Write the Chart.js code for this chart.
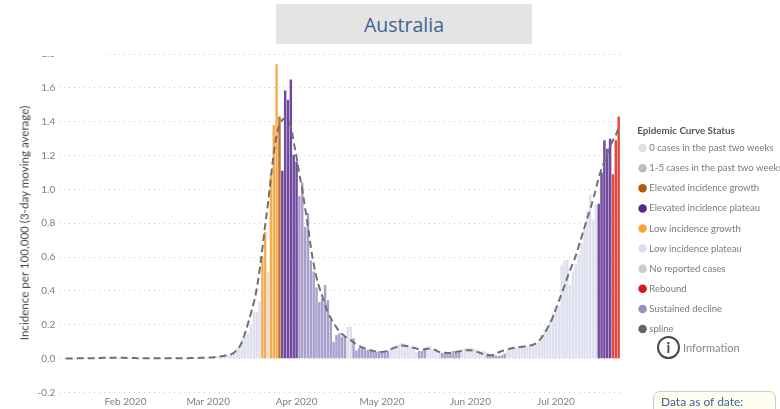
<!DOCTYPE html>
<html><head><meta charset="utf-8">
<script src="https://cdn.jsdelivr.net/npm/chart.js@4"></script>
<style>
html,body{margin:0;padding:0;background:#fff;overflow:hidden}
#wrap{position:relative;width:780px;height:409px;overflow:hidden;filter:blur(0.5px);font-family:Lato,sans-serif}
#wrap canvas{position:absolute;left:0;top:0}
.abs{position:absolute}
#title{left:276px;top:4px;width:256px;height:40px;background:#e4e4e4;color:#3f6393;font-family:"Open Sans",sans-serif;font-size:19.5px;line-height:42px;text-align:center}
#mask{left:0;top:0;width:108px;height:56px;background:#fff}
#ytitle{left:24px;top:223px;width:300px;text-align:center;font-size:11.6px;color:#444;transform:translate(-50%,-50%) rotate(-90deg);white-space:nowrap}
#icon{left:657px;top:336px;width:19px;height:19px;border:2px solid #4a4a4a;border-radius:50%;text-align:center;font-size:15px;line-height:19px;font-weight:700;color:#4a4a4a}
#info{left:683px;top:341px;font-size:11px;color:#888}
#asof{left:653px;top:391px;width:123px;height:40px;border:1px solid #ccc;border-radius:7px;background:#fffdf0;color:#3f6393;font-size:12px;padding:2px 0 0 7px;box-sizing:border-box}
</style></head>
<body>
<div id="wrap">
<canvas id="c" width="780" height="409"></canvas>
<div class="abs" id="mask"></div>
<div class="abs" id="title">Australia</div>
<div class="abs" id="ytitle">Incidence per 100,000 (3-day moving average)</div>
<div class="abs" id="icon">i</div>
<div class="abs" id="info">Information</div>
<div class="abs" id="asof">Data as of date:</div>
</div>
<script>
const monthSpans = [['Jan',11,31],['Feb',1,29],['Mar',1,31],['Apr',1,30],['May',1,31],['Jun',1,30],['Jul',1,23]];
const monthTicks = {Feb:'Feb 2020',Mar:'Mar 2020',Apr:'Apr 2020',May:'May 2020',Jun:'Jun 2020',Jul:'Jul 2020'};
const yTicks = [-0.2,0,0.2,0.4,0.6,0.8,1.0,1.2,1.4,1.6,1.8];

const incidence = [
0,0,0,0,0,0,0,0,0,.003,
.003,.003,.003,.003,.006,.006,.006,.006,.006,.006,
.006,.006,.006,.003,.003,.003,.003,.003,.003,0,
0,0,0,.003,.003,0,0,0,.003,.003,
.003,.003,.003,.003,.003,.006,.006,.006,.006,.006,
.008,.008,.01,.012,.014,.02,.025,.02,.03,.04,
.06,.08,.12,.13,.15,.2,.276,.276,.335,.60,
.75,.51,1.09,1.38,1.74,1.43,1.11,1.585,1.53,1.65,
1.205,1.165,.96,1.04,.78,.86,.58,.515,.42,.335,
.355,.435,.345,.23,.10,.14,.15,.13,.13,.19,
.19,.12,.05,.065,.06,.053,.053,.05,.045,.04,
.045,.04,.038,.045,.065,.073,.08,.09,.093,.09,
.08,.073,.07,.04,.045,.045,.065,.073,.073,.053,
.045,.04,.035,.03,.04,.035,.045,.035,.045,.055,
.06,.065,.065,.06,.055,.05,.045,.045,.03,.025,
.02,.018,.015,.02,.03,.05,.055,.06,.065,.07,
.07,.072,.075,.075,.075,.08,.10,.14,.17,.19,
.23,.27,.29,.31,.555,.58,.585,.435,.515,.56,
.61,.68,.77,.87,.97,.82,.91,.915,1.10,1.29,
1.24,1.30,1.09,1.29,1.43];

const splineValues = [
.001,.001,.001,.002,.002,.002,.002,.002,.003,.003,
.003,.004,.004,.005,.005,.005,.005,.005,.005,.005,
.005,.005,.004,.004,.004,.003,.003,.003,.002,.002,
.002,.002,.002,.002,.002,.002,.002,.002,.002,.003,
.003,.003,.003,.003,.004,.004,.004,.005,.005,.006,
.006,.007,.008,.01,.012,.015,.018,.022,.026,.035,
.05,.07,.105,.155,.21,.27,.33,.41,.52,.65,
.79,.92,1.07,1.21,1.32,1.38,1.41,1.42,1.41,1.37,
1.28,1.19,1.09,1.0,.89,.78,.66,.56,.48,.42,
.37,.32,.27,.24,.21,.185,.16,.145,.13,.12,
.11,.095,.085,.075,.066,.06,.055,.05,.046,.042,
.04,.04,.042,.048,.055,.062,.068,.073,.077,.076,
.073,.068,.064,.06,.055,.053,.055,.058,.059,.055,
.048,.04,.036,.035,.034,.034,.036,.04,.043,.046,
.05,.05,.05,.047,.042,.036,.03,.026,.022,.02,
.022,.03,.038,.045,.05,.055,.06,.063,.066,.068,
.07,.072,.075,.078,.082,.09,.105,.125,.15,.18,
.21,.25,.295,.34,.385,.43,.48,.525,.565,.61,
.665,.72,.775,.83,.88,.94,1.0,1.07,1.12,1.165,
1.21,1.255,1.29,1.32,1.365];

const statusRuns = [['low',69],['lowG',2],['low',1],['lowG',3],['elevG',1],['elevP',6],['sust',17],['low',2],['sust',13],['low',10],['sust',3],['low',5],['sust',7],['low',9],['sust',7],['low',32],['elevP',5],['reb',3]];
const statusKeys = ['zero','few','elevG','elevP','lowG','low','none','reb','sust'];
const statusNames = ['0 cases in the past two weeks','1-5 cases in the past two weeks','Elevated incidence growth','Elevated incidence plateau','Low incidence growth','Low incidence plateau','No reported cases','Rebound','Sustained decline'];
const legendDots = ['#e0e0e0','#bdbdbd','#b35806','#54278f','#f5a53c','#dcdcee','#cccccc','#d7191c','#9a8cc6'];
const barFill = ['#e0e0e0','#bdbdbd','#b9752c','#6f4a9f','#f6ad52','#dfe0ef','#cccccc','#e2493f','#a99fcd'];

const categories = [];
monthSpans.forEach(([m,a,b])=>{for(let d=a;d<=b;d++)categories.push(m+' '+d);});
const status = [];
statusRuns.forEach(([k,n])=>{for(let i=0;i<n;i++)status.push(k);});

const datasets = statusKeys.map((k,s)=>({
  type:'bar',label:statusNames[s],order:2,
  data:incidence.map((v,i)=>status[i]===k?v:null),
  backgroundColor:barFill[s],borderWidth:0,
  pointStyle:'circle',
  grouped:false,barPercentage:0.86,categoryPercentage:1
}));
datasets.push({type:'line',label:'spline',order:1,data:splineValues,borderColor:'#707070',
  backgroundColor:'#636363',borderWidth:2,borderDash:[7,4],pointRadius:0,tension:0.4,pointStyle:'circle'});

const legendPlacement = {id:'legendPlacement',afterLayout(chart){
  const l = chart.legend;
  l.left = 630; l.width = 112; l.right = 780;
}};

new Chart(document.getElementById('c'),{
  data:{labels:categories,datasets},
  plugins:[legendPlacement],
  options:{
    responsive:false,animation:false,
    layout:{padding:{left:0,right:-2.5,top:54,bottom:0}},
    plugins:{
      tooltip:{enabled:false},
      legend:{
        position:'right',align:'start',
        title:{display:true,position:'center',text:'Epidemic Curve Status',color:'#555',font:{family:'Lato',size:9.8,weight:'bold'},padding:{top:72,bottom:-5}},
        labels:{
          font:{family:'Lato',size:9.5},color:'#7a7a7a',padding:10.6,boxWidth:4,boxHeight:6,usePointStyle:true,
          generateLabels(chart){
            return chart.data.datasets.map((d,i)=>({text:d.label,fillStyle:i<9?legendDots[i]:'#636363',strokeStyle:'transparent',lineWidth:0,pointStyle:'circle',fontColor:'#7a7a7a',datasetIndex:i,hidden:false}));
          }
        }
      }
    },
    scales:{
      x:{
        stacked:false,offset:true,
        grid:{display:false,drawTicks:false},border:{display:false},
        afterFit(s){s.height=16.5;},
        ticks:{autoSkip:false,maxRotation:0,minRotation:0,padding:3,color:'#808080',font:{family:'Lato',size:10},
          callback(v,i){const c=categories[i];const [m,d]=c.split(' ');return d==='1'?monthTicks[m]:'';}}
      },
      y:{
        min:-0.2,max:1.8,
        afterFit(s){s.width=64.25;},
        afterBuildTicks(s){s.ticks=yTicks.map(v=>({value:v}));},
        grid:{color:'#cfcfcf',lineWidth:1,tickLength:4,tickColor:'#cfcfcf',tickBorderDash:[1,4]},
        border:{display:false,dash:[1,4]},
        ticks:{padding:5,color:'#808080',font:{family:'Lato',size:10},callback:v=>v.toFixed(1)}
      }
    }
  }
});
</script>
</body></html>
